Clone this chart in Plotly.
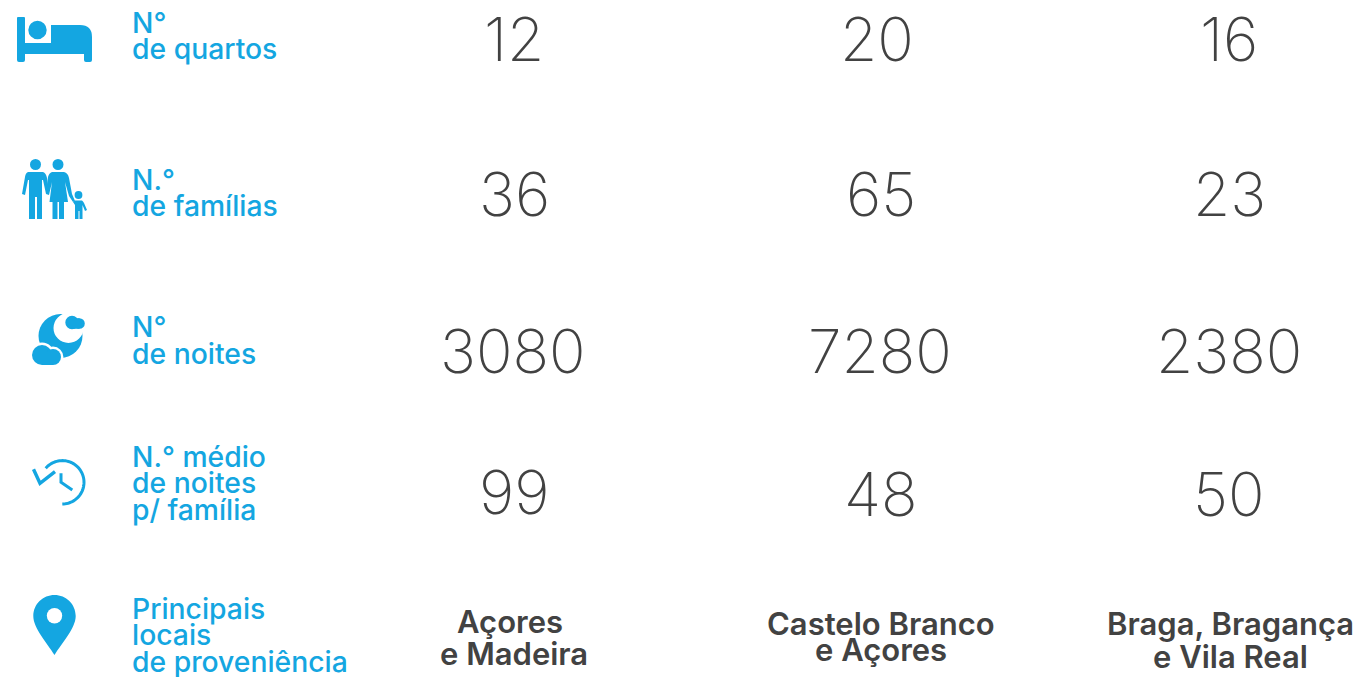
import numpy as np
import plotly.graph_objects as go

# ---- data ----
quartos = ["12", "20", "16"]
familias = ["36", "65", "23"]
noites = ["3080", "7280", "2380"]
medio = ["99", "48", "50"]
locais = [["Açores", "e Madeira"], ["Castelo Branco", "e Açores"], ["Braga, Bragança", "e Vila Real"]]
row_labels = [["N°", "de quartos"], ["N.°", "de famílias"], ["N°", "de noites"],
              ["N.° médio", "de noites", "p/ família"], ["Principais", "locais", "de proveniência"]]

# ---- layout constants ----
W, H = 1360, 677
BLUE = "#14A6E1"
DARK = "#424242"
FONT = "Inter"
LABEL_X = 129.5
LABEL_Y = [[23, 49], [180, 206], [327, 354], [457, 483, 510], [609, 635, 662]]
VALUE_X = [[514, 877, 1229], [514, 881, 1229], [513, 880, 1229], [514, 881, 1229]]
VALUE_Y = [[39, 39, 39], [194, 194, 194], [351, 351, 351], [492, 494, 494]]
PLACE_X = [[510, 514], [881, 881], [1230, 1230]]
PLACE_Y = [[621, 653], [623, 649], [623, 656]]

fig = go.Figure()
shapes, ann = [], []


def circle(cx, cy, r, color=BLUE):
    shapes.append(dict(type="circle", xref="x", yref="y", x0=cx - r, x1=cx + r, y0=cy - r, y1=cy + r,
                       fillcolor=color, line=dict(width=0), layer="above"))


def path(d, fill=BLUE, stroke=None, width=0):
    shapes.append(dict(type="path", xref="x", yref="y", path=d, fillcolor=fill if fill else "rgba(0,0,0,0)",
                       line=dict(width=width, color=stroke or "rgba(0,0,0,0)"), layer="above"))


# bed
path("M18,17 L24,17 Q25,17 25,18 L25,43 L51,43 L51,25 L80,25 Q92,25 92,37 L92,60 Q92,62 90,62 L86,62 Q84,62 84,60 "
     "L84,54 L25,54 L25,60 Q25,62 23,62 L19,62 Q17,62 17,60 L17,18 Q17,17 18,17 Z")
circle(37.5, 30, 9.2)

# family
circle(35.5, 164.5, 5.5)
circle(58, 164.5, 5.5)
circle(78.5, 195, 3.9)
path("M28,172 L43,172 Q46,173 47,178 L49,192 L46,194 L43,180 L42,180 L42,219 L37,219 L37,197 L35,197 L35,219 "
     "L29,219 L29,180 L28,180 L25,195 L22,194 L25,177 Q25.5,173 28,172 Z")
path("M52,172 L64,172 Q68,173 69,178 L72,194 L75,201 L73,202 L69,196 L65,182 L68,202 L64,202 L64,219 L59,219 "
     "L59,202 L57.5,202 L57.5,219 L52.5,219 L52.5,202 L49.5,202 L52,182 L49,195 L46,194 L48,177 Q49,173 52,172 Z")
path("M76,200.5 L82,200.5 Q83,201 84,203 L87,210 L85,211 L82.5,205 L82.5,219 L79.5,219 L79.5,211 L78.5,211 "
     "L78.5,219 L75,219 L75,205 L73,202 L75,200.5 Z")

# moon with clouds
circle(60.5, 336, 22)
circle(68.5, 328, 15, "#ffffff")
for c in [(72, 322.5, 6.7), (79.5, 323.5, 5.3)]:
    circle(c[0], c[1], c[2])
path("M72,318.2 L79.5,318.2 L79.5,328.8 L72,328.8 Z")
cloud = [(42, 355, 10), (53, 357, 8)]
for c in cloud:
    circle(c[0], c[1], c[2] + 2.4, "#ffffff")
for c in cloud:
    circle(c[0], c[1], c[2])
path("M42,352 L53,352 L53,365 L42,365 Z")

# clock
cx, cy, r = 62.3, 482.3, 21.7
theta = np.radians(np.linspace(90, -140, 60))
arc = "M" + " L".join(f"{cx + r * np.cos(t):.2f},{cy + r * np.sin(t):.2f}" for t in theta)
path(arc, fill=None, stroke=BLUE, width=3)
path("M33.5,469.3 L40,483.3 L55,471.7", fill=None, stroke=BLUE, width=3.4)
path("M61,473.3 L61,482.3 L72.3,490", fill=None, stroke=BLUE, width=3)

# pin
path("M33.3,616 C33.3,604 43,595 54.5,595 C66,595 75.7,604 75.7,616 C75.7,628 62,643 54.5,655 "
     "C47,643 33.3,628 33.3,616 Z")
circle(54.5, 615.7, 7.7, "#ffffff")


def text(x, y, s, size, color, weight, anchor="center"):
    ann.append(dict(x=x, y=y, xref="x", yref="y", text=s, showarrow=False, xanchor=anchor, yanchor="middle",
                    font=dict(family=FONT, size=size, color=color, weight=weight)))


for lines, ys in zip(row_labels, LABEL_Y):
    for s, y in zip(lines, ys):
        text(LABEL_X, y, s, 28.3, BLUE, 450, "left")

for vals, xs, ys in zip([quartos, familias, noites, medio], VALUE_X, VALUE_Y):
    for v, x, y in zip(vals, xs, ys):
        text(x, y, v, 60.5, DARK, 250)

for lines, xs, ys in zip(locais, PLACE_X, PLACE_Y):
    for s, x, y in zip(lines, xs, ys):
        text(x, y, s, 31, DARK, 600)

# anchors the axes without drawing any visible mark
fig.add_trace(go.Scatter(x=[0, W], y=[0, H], mode="markers", marker=dict(opacity=0), hoverinfo="skip", showlegend=False))
fig.update_layout(width=W, height=H, margin=dict(l=0, r=0, t=0, b=0), plot_bgcolor="white", paper_bgcolor="white",
                  shapes=shapes, annotations=ann, showlegend=False,
                  xaxis=dict(range=[0, W], visible=False, fixedrange=True),
                  yaxis=dict(range=[H, 0], visible=False, fixedrange=True))
fig.write_html("out.html", config=dict(displayModeBar=False),
               post_script="document.body.style.margin='0';document.body.style.overflow='hidden';")
